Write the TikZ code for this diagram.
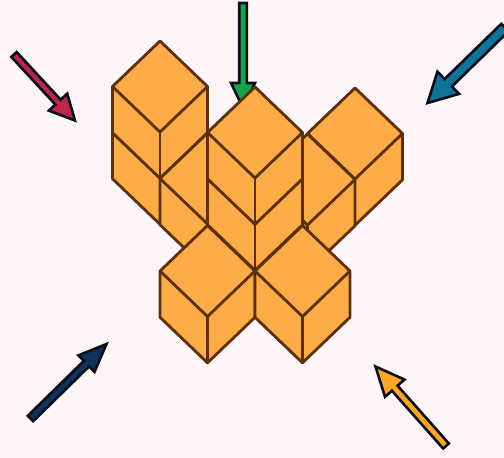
\documentclass[tikz,border=0pt]{standalone}
\usetikzlibrary{calc}
\definecolor{bgc}{HTML}{FEF5F8}
\definecolor{cubefill}{HTML}{FDAC47}
\definecolor{cubeline}{HTML}{5C300B}
\definecolor{arrowline}{HTML}{0B0F19}
\definecolor{redc}{HTML}{BC2649}
\definecolor{greenc}{HTML}{16A34A}
\definecolor{bluec}{HTML}{0F7498}
\definecolor{navyc}{HTML}{12305E}
\definecolor{orangec}{HTML}{F9A826}
\tikzset{
  cubeface/.style={draw=cubeline,fill=cubefill,line width=2.8pt,line join=round},
  blockarrow/.style={draw=arrowline,line width=2.6pt,line join=miter,miter limit=10},
}
% top vertex x, y
\newcommand\isocube[2]{%
  \path[cubeface] (#1,#2) -- ++(-47.5,45.5) -- ++(0,46.3) -- ++(47.5,45.5) -- ++(47.5,-45.5) -- ++(0,-46.3) -- cycle;
  \draw[cubeface,fill=none] (#1-47.5,#2+45.5) -- (#1,#2+91) -- (#1+47.5,#2+45.5);
  \draw[cubeface,fill=none] (#1,#2+91) -- (#1,#2+137.3);
}
% colour, tail, tip, shaft half width, head half width, head length
\newcommand\bigarrow[6]{%
  \coordinate (tl) at (#2);
  \coordinate (tp) at (#3);
  \coordinate (hb) at ($(tp)!#6pt!(tl)$);
  \draw[blockarrow,fill=#1]
    ($(tl)!#4pt!90:(tp)$) -- ($(hb)!#4pt!90:(tp)$) -- ($(hb)!#5pt!90:(tp)$) -- (tp)
    -- ($(hb)!#5pt!-90:(tp)$) -- ($(hb)!#4pt!-90:(tp)$) -- ($(tl)!#4pt!-90:(tp)$) -- cycle;
}
\begin{document}
\begin{tikzpicture}[x=1pt,y=-1pt]
\useasboundingbox (0,0) rectangle (504,458);
\clip (0,0) rectangle (504,458);
\fill[bgc] (0,0) rectangle (504,458);
\bigarrow{redc}{14,54.5}{75,120.5}{3.6}{12.5}{25}
\bigarrow{greenc}{243,3}{243,108}{3.8}{12}{25}
\bigarrow{bluec}{505,27.5}{427.5,103}{5.2}{15.5}{29}
\bigarrow{navyc}{30.5,418.5}{106.5,344}{3.8}{11.5}{28}
\bigarrow{orangec}{446,446}{375.5,366.5}{3.8}{13}{29}
\isocube{160}{87}
\isocube{160}{41}
\isocube{207.5}{133}
\isocube{355}{88}
\isocube{307.5}{134}
\isocube{255}{133}
\isocube{255}{87}
\isocube{207.5}{225.5}
\isocube{302.5}{225.5}
\end{tikzpicture}
\end{document}
